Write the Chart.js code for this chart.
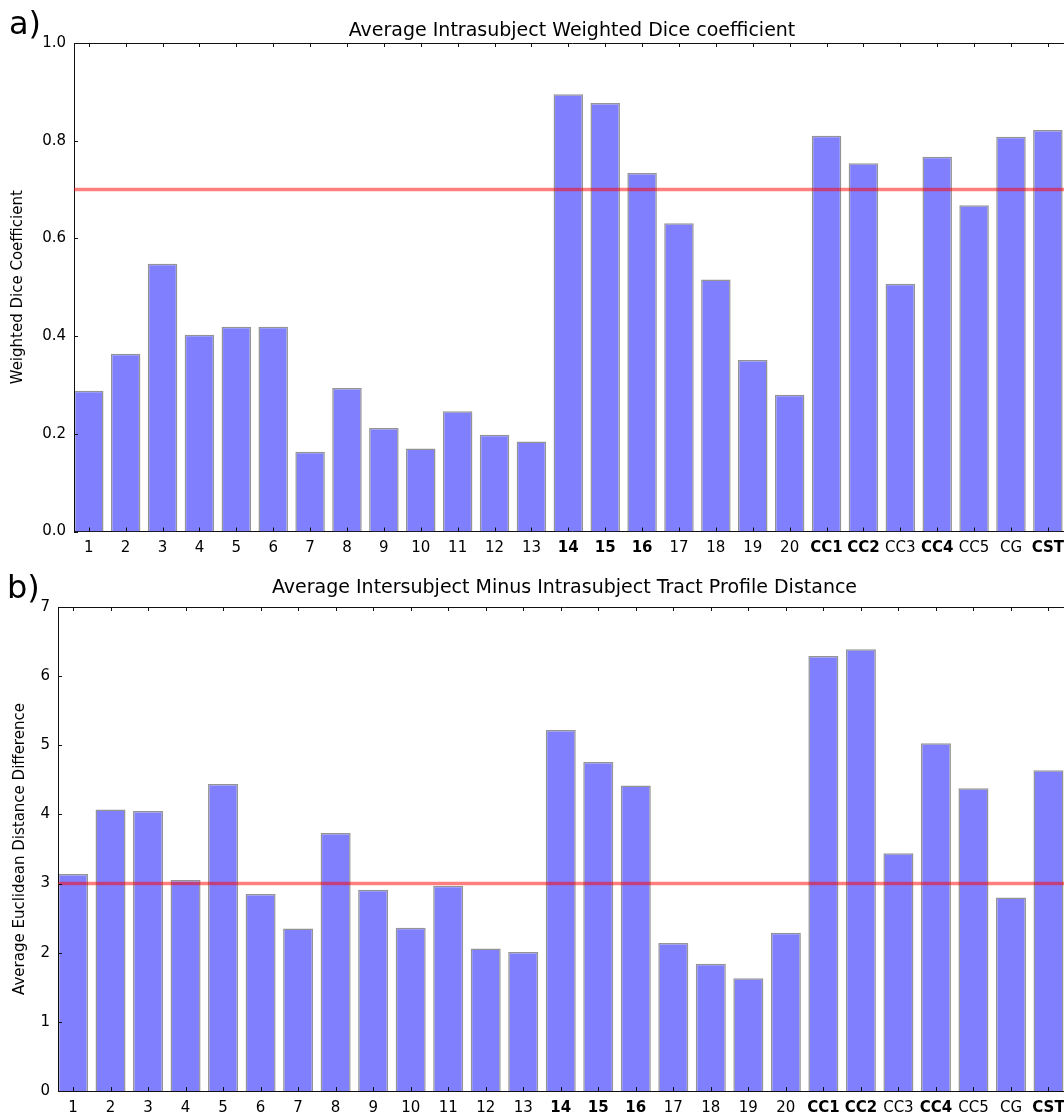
<!DOCTYPE html>
<html>
<head>
<meta charset="utf-8">
<title>Dice and tract profile distance</title>
<script src="https://cdn.jsdelivr.net/npm/chart.js@4/dist/chart.umd.min.js"></script>
<style>
  html, body { margin: 0; padding: 0; background: #fff; overflow: hidden; }
  #wrap { position: relative; width: 1064px; height: 1117px; overflow: hidden; }
  #wrap canvas { position: absolute; left: 0; }
</style>
</head>
<body>
<div id="wrap">
  <canvas id="diceChart" width="1080" height="565" style="top:0"></canvas>
  <canvas id="distChart" width="1080" height="552" style="top:565px"></canvas>
</div>
<script>
// tract names on the x axis, the bold ones are the reliable tracts
var tracts = ['1', '2', '3', '4', '5', '6', '7', '8', '9', '10', '11', '12', '13',
              '14', '15', '16', '17', '18', '19', '20',
              'CC1', 'CC2', 'CC3', 'CC4', 'CC5', 'CG', 'CST'];
var boldTracts = ['14', '15', '16', 'CC1', 'CC2', 'CC4', 'CST'];

// a) average intrasubject weighted dice
var diceValues = [0.288, 0.364, 0.548, 0.403, 0.419, 0.419, 0.163, 0.294, 0.212, 0.170,
                  0.246, 0.198, 0.184, 0.895, 0.877, 0.734, 0.631, 0.516, 0.351, 0.280,
                  0.810, 0.754, 0.507, 0.767, 0.668, 0.808, 0.822];
var diceThreshold = [0.7];

// b) average intersubject minus intrasubject profile distance
var distValues = [3.14, 4.07, 4.05, 3.05, 4.44, 2.85, 2.35, 3.73, 2.91, 2.36,
                  2.97, 2.06, 2.01, 5.22, 4.76, 4.42, 2.14, 1.84, 1.63, 2.29,
                  6.29, 6.39, 3.44, 5.03, 4.38, 2.80, 4.64];
var distThreshold = [3];

var FONT = '"DejaVu Sans", Verdana, sans-serif';
Chart.defaults.font.family = FONT;
Chart.defaults.color = '#000';

// matplotlib style: ticks pointing inwards, closed box, title and panel letter
var mplFrame = {
    id: 'mplFrame',
    afterDraw: function(chart) {
        var o = chart.options.plugins.mplFrame;
        var ctx = chart.ctx, a = chart.chartArea;
        var xs = chart.scales.x, ys = chart.scales.y;
        ctx.save();
        ctx.strokeStyle = '#111';
        ctx.lineWidth = 1;
        ctx.beginPath();
        var top = Math.round(a.top) + 0.5, right = Math.round(a.right) + 0.5;
        ctx.moveTo(a.left, top); ctx.lineTo(right, top); ctx.lineTo(right, a.bottom);
        xs.ticks.forEach(function(t) {
            var px = Math.round(xs.getPixelForValue(t.value)) + 0.5;
            ctx.moveTo(px, a.bottom); ctx.lineTo(px, a.bottom - 4);
            ctx.moveTo(px, a.top); ctx.lineTo(px, a.top + 4);
        });
        ys.ticks.forEach(function(t) {
            var py = Math.round(ys.getPixelForValue(t.value)) + 0.5;
            ctx.moveTo(a.left, py); ctx.lineTo(a.left + 4, py);
            ctx.moveTo(a.right, py); ctx.lineTo(a.right - 4, py);
        });
        ctx.stroke();

        ctx.fillStyle = '#000';
        ctx.textBaseline = 'alphabetic';
        ctx.textAlign = 'center';
        ctx.font = '19px ' + FONT;
        ctx.fillText(o.title, (a.left + a.right) / 2, o.titleY);
        ctx.textAlign = 'left';
        ctx.font = '32px ' + FONT;
        ctx.fillText(o.panel, o.panelX, o.panelY);
        ctx.restore();
    }
};

function makeChart(id, values, threshold, yMax, yStep, yDecimals, yTitle, cfg) {
    var ctx = document.getElementById(id);
    var bars = tracts.map(function(t, i) { return { x: i + 0.4, y: values[i] }; });
    var line = [{ x: 0, y: threshold[0] }, { x: tracts.length, y: threshold[0] }];

    return new Chart(ctx, {
        type: 'bar',
        data: {
            datasets: [{
                type: 'line',
                data: line,
                borderColor: 'rgba(255,0,0,0.5)',
                borderWidth: 3.5,
                pointRadius: 0,
                order: 0
            }, {
                type: 'bar',
                data: bars,
                backgroundColor: '#8080ff',
                borderColor: 'rgba(0,0,0,0.42)',
                borderWidth: 1.5,
                barPercentage: 0.8,
                categoryPercentage: 1,
                order: 1
            }]
        },
        options: {
            responsive: false,
            animation: false,
            layout: { padding: { top: cfg.padTop, right: cfg.padRight, left: 0, bottom: 0 } },
            plugins: {
                legend: { display: false },
                tooltip: { enabled: false },
                title: { display: false },
                mplFrame: cfg
            },
            scales: {
                x: {
                    type: 'linear',
                    min: 0,
                    max: tracts.length,
                    offset: false,
                    grid: { display: false, drawTicks: false },
                    border: { display: true, color: '#111', width: 1 },
                    afterBuildTicks: function(s) {
                        s.ticks = tracts.map(function(t, i) { return { value: i + 0.4 }; });
                    },
                    afterFit: function(s) { s.height = cfg.xHeight; },
                    ticks: {
                        autoSkip: false,
                        maxRotation: 0,
                        minRotation: 0,
                        padding: 8,
                        color: '#000',
                        callback: function(v, i) { return tracts[i]; },
                        font: function(c) {
                            var bold = boldTracts.indexOf(tracts[c.index]) >= 0;
                            return { size: 15, weight: bold ? 'bold' : 'normal' };
                        }
                    }
                },
                y: {
                    min: 0,
                    max: yMax,
                    grid: { display: false, drawTicks: false },
                    border: { display: true, color: '#111', width: 1 },
                    afterFit: function(s) { s.width = cfg.yWidth; },
                    ticks: {
                        stepSize: yStep,
                        padding: 8,
                        color: '#000',
                        font: { size: 15 },
                        callback: function(v) { return v.toFixed(yDecimals); }
                    },
                    title: {
                        display: true,
                        text: yTitle,
                        color: '#000',
                        font: { size: 15 },
                        padding: { top: cfg.yTitlePad, bottom: 0 }
                    }
                }
            }
        },
        plugins: [mplFrame]
    });
}

makeChart('diceChart', diceValues, diceThreshold, 1.0, 0.2, 1, 'Weighted Dice Coefficient', {
    title: 'Average Intrasubject Weighted Dice coefficient', titleY: 36,
    panel: 'a)', panelX: 9, panelY: 34,
    padTop: 43, padRight: 10, xHeight: 33.5, yWidth: 74, yTitlePad: 9
});

makeChart('distChart', distValues, distThreshold, 7, 1, 0, 'Average Euclidean Distance Difference', {
    title: 'Average Intersubject Minus Intrasubject Tract Profile Distance', titleY: 28,
    panel: 'b)', panelX: 7, panelY: 33,
    padTop: 42, padRight: 9, xHeight: 26, yWidth: 58, yTitlePad: 11
});
</script>
</body>
</html>
